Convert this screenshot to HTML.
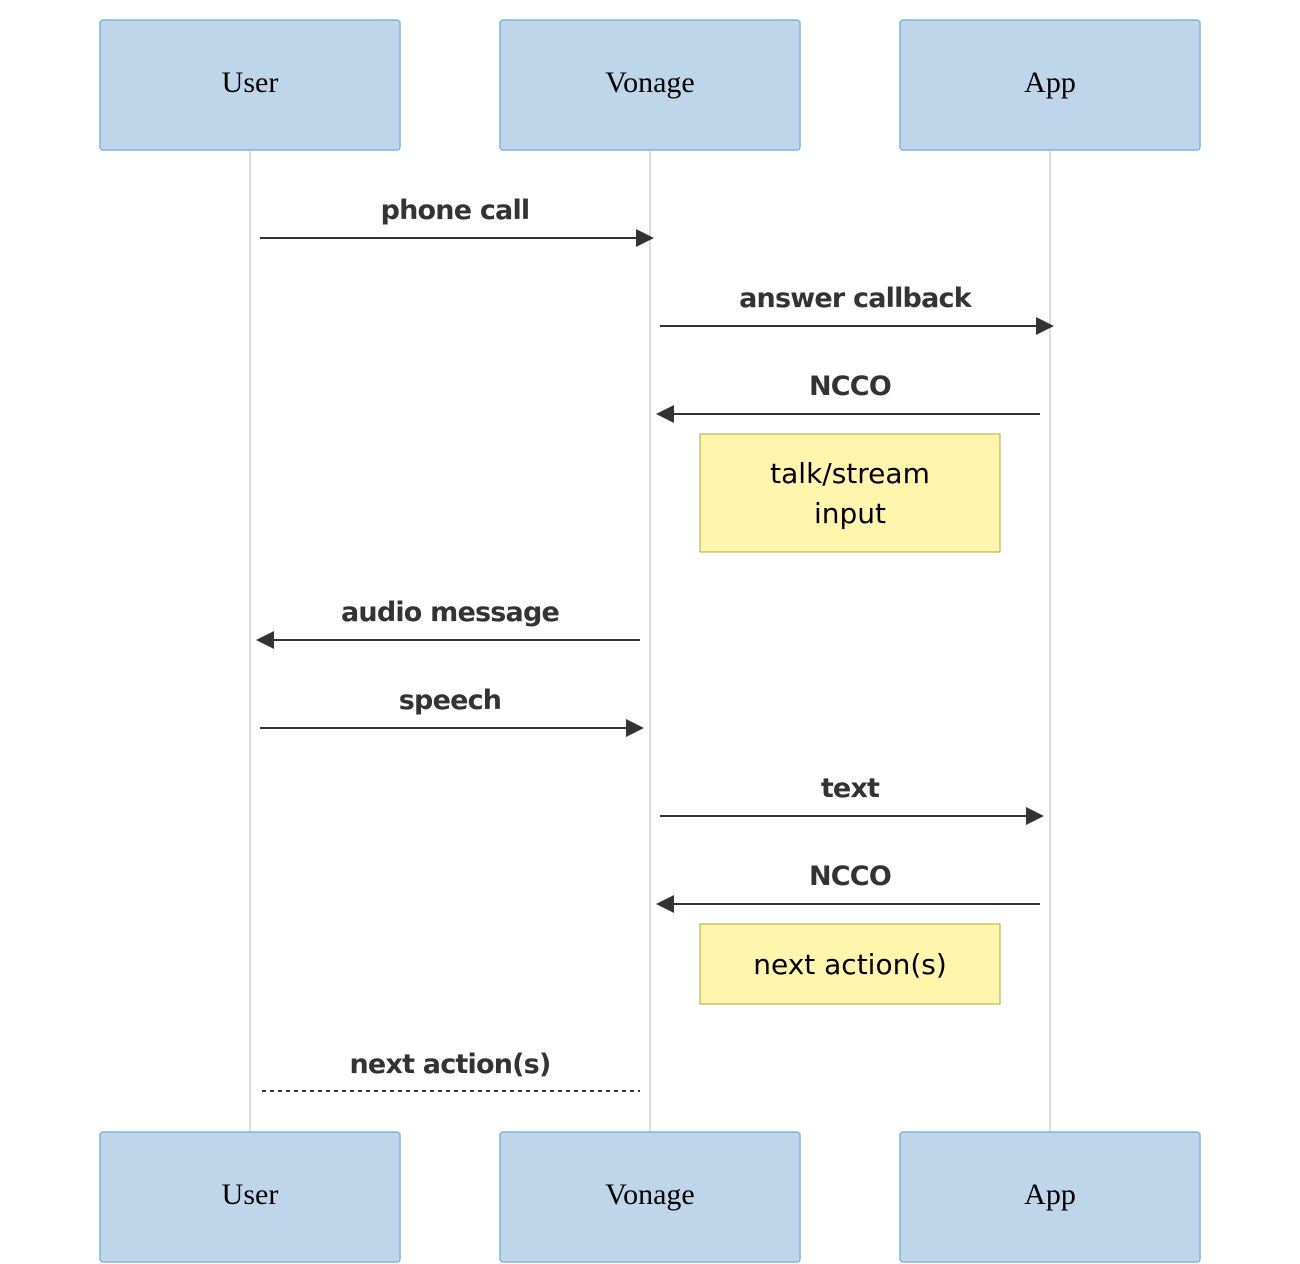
<!DOCTYPE html>
<html><head><meta charset="utf-8"><style>
html,body{margin:0;padding:0;background:#fff;}
svg{display:block;}
.actor{fill:#bed5ea;stroke:#81b1db;stroke-width:1.5;}
.at{font-family:"Liberation Serif",serif;font-size:30px;fill:#000;text-anchor:middle;}
.ml{font-family:"DejaVu Sans",sans-serif;font-weight:bold;font-size:27px;fill:#333;text-anchor:middle;letter-spacing:-0.8px;}
.nt{font-family:"DejaVu Sans",sans-serif;font-size:28px;fill:#000;text-anchor:middle;}
.line{stroke:#333;stroke-width:2;}
.life{stroke:#bbb;stroke-width:1;}
.note{fill:#fff5ad;stroke:#aaaa33;stroke-width:1;}
</style></head><body>
<svg width="1300" height="1264" xmlns="http://www.w3.org/2000/svg">
<line class="life" x1="250" y1="150" x2="250" y2="1132"/>
<line class="life" x1="650" y1="150" x2="650" y2="1132"/>
<line class="life" x1="1050" y1="150" x2="1050" y2="1132"/>
<rect class="actor" x="100" y="20" width="300" height="130" rx="3"/>
<rect class="actor" x="500" y="20" width="300" height="130" rx="3"/>
<rect class="actor" x="900" y="20" width="300" height="130" rx="3"/>
<text class="at" x="250" y="92">User</text>
<text class="at" x="650" y="92">Vonage</text>
<text class="at" x="1050" y="92">App</text>
<rect class="actor" x="100" y="1132" width="300" height="130" rx="3"/>
<rect class="actor" x="500" y="1132" width="300" height="130" rx="3"/>
<rect class="actor" x="900" y="1132" width="300" height="130" rx="3"/>
<text class="at" x="250" y="1204">User</text>
<text class="at" x="650" y="1204">Vonage</text>
<text class="at" x="1050" y="1204">App</text>

<text class="ml" x="455" y="219">phone call</text>
<line class="line" x1="260" y1="238" x2="640" y2="238"/>
<polygon points="636,229 654,238 636,247" fill="#333"/>

<text class="ml" x="855" y="307">answer callback</text>
<line class="line" x1="660" y1="326" x2="1040" y2="326"/>
<polygon points="1036,317 1054,326 1036,335" fill="#333"/>

<text class="ml" x="850" y="395">NCCO</text>
<line class="line" x1="670" y1="414" x2="1040" y2="414"/>
<polygon points="674,405 656,414 674,423" fill="#333"/>

<rect class="note" x="700" y="434" width="300" height="118"/>
<text class="nt" x="850" y="483">talk/stream</text>
<text class="nt" x="850" y="523">input</text>

<text class="ml" x="450" y="621">audio message</text>
<line class="line" x1="270" y1="640" x2="640" y2="640"/>
<polygon points="274,631 256,640 274,649" fill="#333"/>

<text class="ml" x="450" y="709">speech</text>
<line class="line" x1="260" y1="728" x2="630" y2="728"/>
<polygon points="626,719 644,728 626,737" fill="#333"/>

<text class="ml" x="850" y="797">text</text>
<line class="line" x1="660" y1="816" x2="1030" y2="816"/>
<polygon points="1026,807 1044,816 1026,825" fill="#333"/>

<text class="ml" x="850" y="885">NCCO</text>
<line class="line" x1="670" y1="904" x2="1040" y2="904"/>
<polygon points="674,895 656,904 674,913" fill="#333"/>

<rect class="note" x="700" y="924" width="300" height="80"/>
<text class="nt" x="850" y="974">next action(s)</text>

<text class="ml" x="450" y="1073">next action(s)</text>
<line class="line" x1="262" y1="1091" x2="640" y2="1091" stroke-dasharray="4,4"/>
</svg>
</body></html>
